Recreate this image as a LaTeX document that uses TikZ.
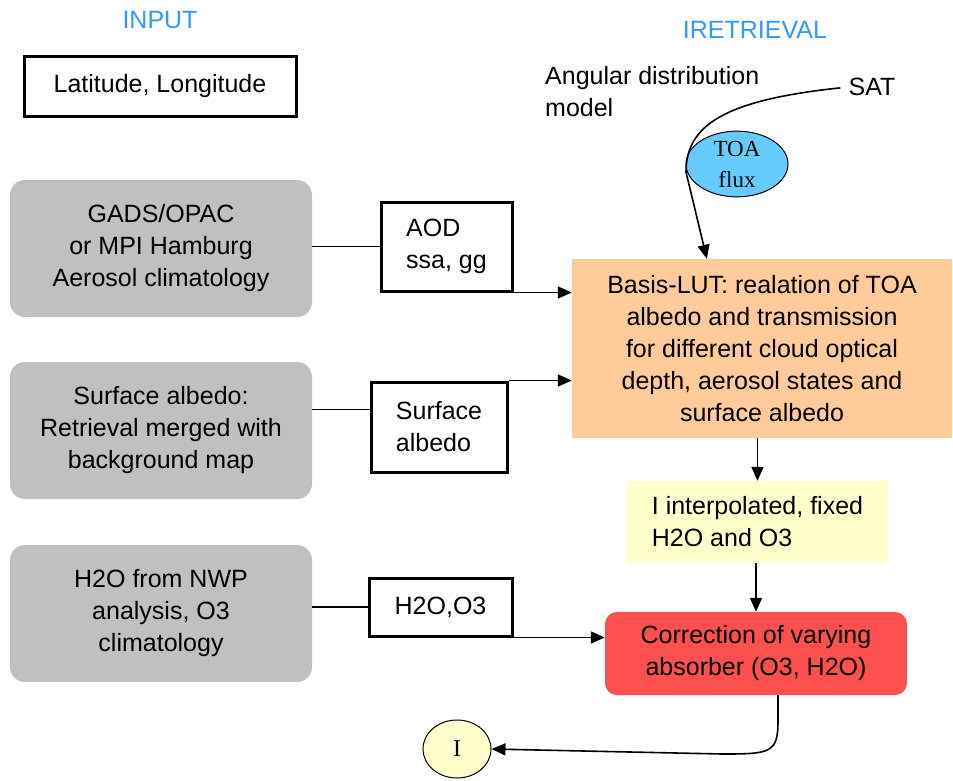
\documentclass[tikz,border=0pt]{standalone}
\usepackage{fontspec}
\setmainfont{Liberation Sans}
\newfontfamily\serifx{Liberation Serif}
\usetikzlibrary{arrows.meta,shapes.geometric,calc}
\definecolor{grayb}{HTML}{C0C0C0}
\definecolor{peach}{HTML}{FFCC99}
\definecolor{paleyellow}{HTML}{FFFFCC}
\definecolor{redc}{HTML}{FF5050}
\definecolor{toablue}{HTML}{66CCFF}
\definecolor{titleblue}{HTML}{3399FF}
\begin{document}
\begin{tikzpicture}[x=1pt,y=-1pt,
  base/.style={font=\fontsize{25}{32}\selectfont, inner sep=0pt, align=center},
  graybox/.style={base, fill=grayb, rounded corners=15pt, minimum width=302pt, minimum height=137pt},
  inbox/.style={base, draw, line width=3pt},
  conn/.style={line width=1.6pt},
  arr/.style={conn, -{Triangle[length=14pt,width=12pt]}}]
\useasboundingbox (0,0) rectangle (953,780);
\fill[white] (0,0) rectangle (953,780);

\node[base, text=titleblue] (inp) at (160,20) {INPUT};
\node[base, text=titleblue] (iret) at (755,30) {IRETRIEVAL};
\node[inbox, minimum width=272pt, minimum height=60pt] (lat) at (160,86) {Latitude, Longitude};
\node[graybox] (gads) at (161,248.5) {GADS/OPAC\\or MPI Hamburg\\Aerosol climatology};
\node[graybox] (surf) at (161,430.5) {Surface albedo:\\Retrieval merged with\\background map};
\node[graybox] (h2o) at (161,613.5) {H2O from NWP\\analysis, O3\\climatology};
\node[inbox, minimum width=131pt, minimum height=89pt, align=left] (aod) at (446.5,246.5) {AOD\\ssa, gg};
\node[inbox, minimum width=136pt, minimum height=90pt, align=left] (salb) at (439,427) {Surface\\albedo};
\node[inbox, minimum width=143pt, minimum height=58pt] (hoo) at (440.5,607) {H2O,O3};
\node[base, fill=peach, minimum width=380pt, minimum height=179pt] (lut) at (762,348.5) {Basis-LUT: realation of TOA\\albedo and transmission\\for different cloud optical\\depth, aerosol states and\\surface albedo};
\node[base, fill=paleyellow, minimum width=261pt, minimum height=82pt, align=left] (yel) at (757.5,522) {I interpolated, fixed\\H2O and O3};
\node[base, fill=redc, rounded corners=12pt, minimum width=302pt, minimum height=83pt] (corr) at (756,653.5) {Correction of varying\\absorber (O3, H2O)};
\node[draw, ellipse, fill=paleyellow, line width=1pt, minimum width=68pt, minimum height=58pt, inner sep=0pt, font=\serifx\fontsize{24}{30}\selectfont] (iout) at (457,749) {I};
\node[draw, ellipse, fill=toablue, line width=1pt, minimum width=102pt, minimum height=62pt, inner sep=0pt, align=center, font=\serifx\fontsize{23}{31}\selectfont] (toa) at (737,164) {TOA\\flux};
\node[base] (sat) at (872,87) {SAT};
\node[base, anchor=north west, align=left] (adm) at (545,66) {Angular distribution\\model};

\draw[conn] (aod.west -| gads.east) -- (aod.west);
\draw[arr] (aod.south east) -- (aod.south east -| lut.west);
\coordinate (sl) at ($(salb.north west)!0.31!(salb.south west)$);
\draw[conn] (sl -| surf.east) -- (sl);
\draw[arr] (salb.north east) -- (salb.north east -| lut.west);
\draw[conn] (hoo.west -| h2o.east) -- (hoo.west);
\draw[arr] (hoo.south east) -- (hoo.south east -| corr.west);
\draw[arr] (yel.north |- lut.south) -- (yel.north);
\draw[arr] (corr.north |- yel.south) -- (corr.north);
\coordinate (cs) at ($(corr.south)+(22,0)$);
\coordinate (bend) at (722,754);
\draw[arr] (cs) -- ++(0,26) .. controls +(0,32) and (770,754) .. (bend) -- (iout.east);
\coordinate (lutin) at ($(lut.north west)!0.355!(lut.north east)$);
\draw[arr, shorten <=8pt] (sat.west) .. controls (725,100) and (686,125) .. (686,172) -- (lutin);
\end{tikzpicture}
\end{document}
